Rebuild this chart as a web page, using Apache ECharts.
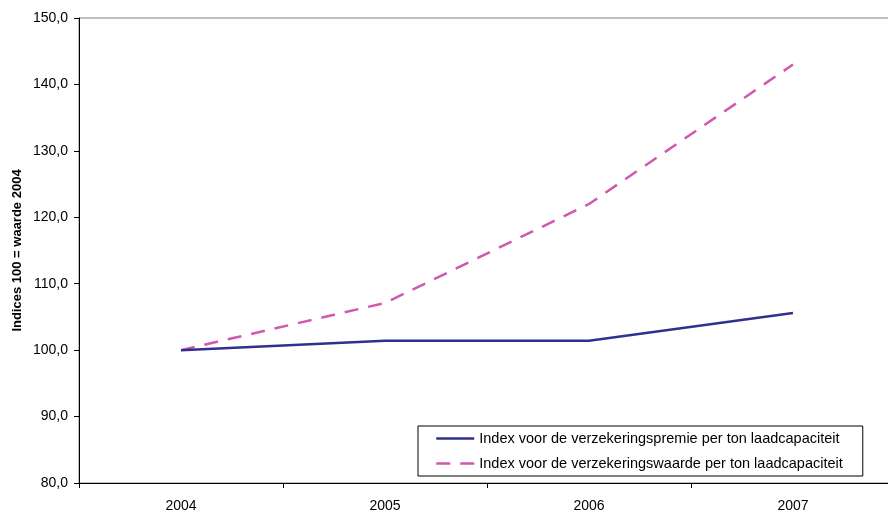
<!DOCTYPE html>
<html>
<head>
<meta charset="utf-8">
<script src="https://cdn.jsdelivr.net/npm/echarts@6/dist/echarts.min.js"></script>
<style>
  html, body { margin: 0; padding: 0; background: #fff; }
  #chart { width: 888px; height: 510px; }
</style>
</head>
<body>
<div id="chart"></div>
<script>
// Jaren en indexreeksen (2004 = 100)
const years = ['2004', '2005', '2006', '2007'];
const premieIndex = [100.0, 101.4, 101.4, 105.6];
const waardeIndex = [100.0, 107.1, 122.0, 143.0];
const seriesNames = [
  'Index voor de verzekeringspremie per ton laadcapaciteit',
  'Index voor de verzekeringswaarde per ton laadcapaciteit'
];
const yTitle = 'Indices 100 = waarde 2004';

const font = 'Liberation Sans, Arial, sans-serif';
const navy = '#30308F';
const pink = '#D257AE';
const dash = [14, 10];

const chart = echarts.init(document.getElementById('chart'), null, { renderer: 'canvas' });

chart.setOption({
  animation: false,
  backgroundColor: '#ffffff',
  grid: {
    left: 79, top: 18, right: -7, bottom: 27,
    outerBoundsMode: 'none',
    containLabel: false,
    show: true, borderColor: '#808080', borderWidth: 1, backgroundColor: 'transparent'
  },
  legend: {
    orient: 'vertical',
    left: 418, top: 426,
    padding: [5, 20, 5, 17],
    itemGap: 10,
    itemWidth: 38, itemHeight: 14,
    backgroundColor: '#ffffff',
    borderColor: '#000000', borderWidth: 1,
    textStyle: { fontFamily: font, fontSize: 14.5, color: '#000' },
    data: [
      { name: seriesNames[0], itemStyle: { opacity: 0 }, lineStyle: { color: navy, width: 2.5 } },
      { name: seriesNames[1], itemStyle: { opacity: 0 }, lineStyle: { color: pink, width: 2.5, type: dash } }
    ]
  },
  xAxis: {
    type: 'category',
    data: years,
    boundaryGap: true,
    axisLine: { lineStyle: { color: '#000', width: 1 } },
    axisTick: { show: true, alignWithLabel: false, length: 5, lineStyle: { color: '#000' } },
    axisLabel: { fontFamily: font, fontSize: 14, color: '#000', margin: 16 },
    splitLine: { show: false }
  },
  yAxis: {
    type: 'value',
    min: 80, max: 150, interval: 10,
    name: yTitle,
    nameLocation: 'middle',
    nameGap: 55,
    nameMoveOverlap: false,
    nameRotate: 90,
    nameTextStyle: { fontFamily: font, fontSize: 13, fontWeight: 'bold', color: '#000' },
    axisLine: { show: true, lineStyle: { color: '#000', width: 1 } },
    axisTick: { show: true, length: 5, lineStyle: { color: '#000' } },
    axisLabel: {
      fontFamily: font, fontSize: 14, color: '#000', margin: 11,
      formatter: v => v.toFixed(1).replace('.', ',')
    },
    splitLine: { show: false }
  },
  series: [
    {
      name: seriesNames[0],
      type: 'line',
      data: premieIndex,
      symbol: 'none',
      lineStyle: { color: navy, width: 2.5 },
      itemStyle: { color: navy },
      z: 3
    },
    {
      name: seriesNames[1],
      type: 'line',
      data: waardeIndex,
      symbol: 'none',
      lineStyle: { color: pink, width: 2.5, type: dash },
      itemStyle: { color: pink },
      z: 2
    }
  ]
});
</script>
</body>
</html>
